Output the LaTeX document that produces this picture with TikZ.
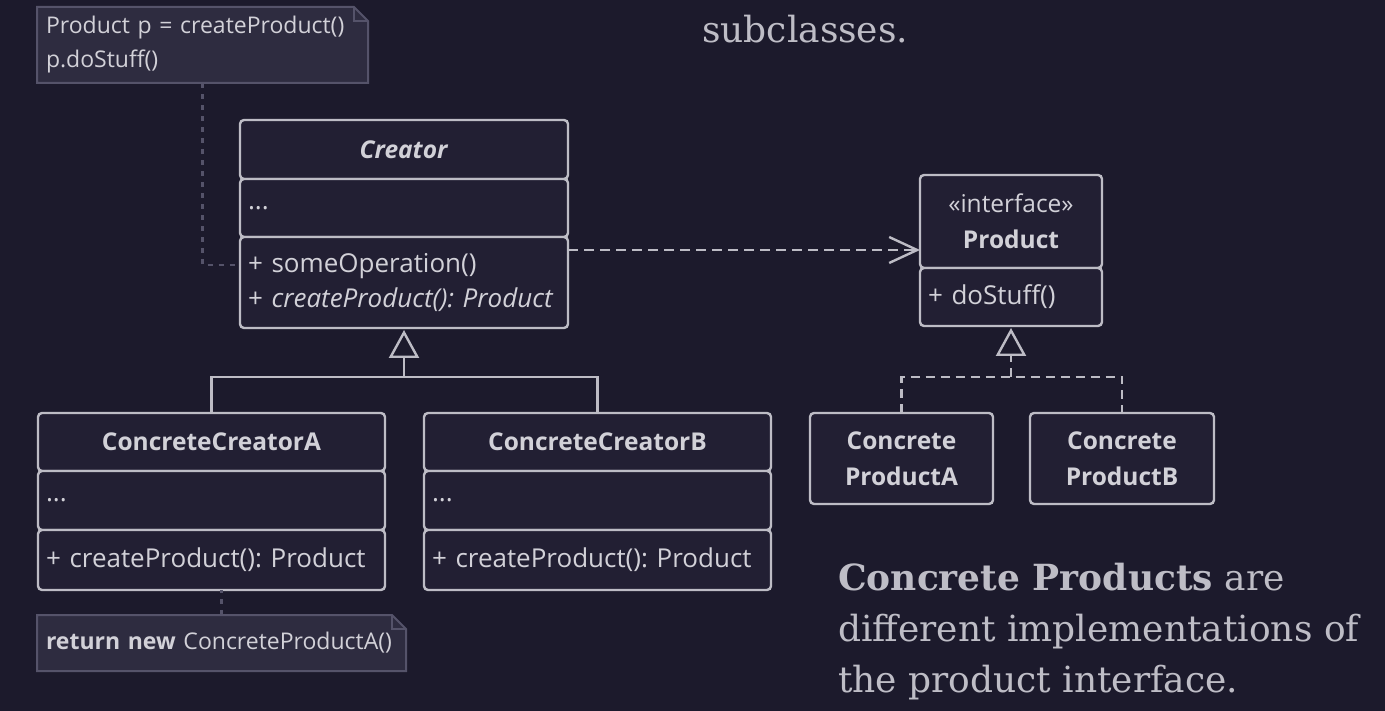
\documentclass[tikz,border=0pt]{standalone}
\usepackage{fontspec}
\setmainfont{DejaVu Serif}
\setsansfont{Open Sans}
\usetikzlibrary{arrows.meta,calc,positioning}
\definecolor{bg}{HTML}{1C1A2C}
\definecolor{panel}{HTML}{221F33}
\definecolor{notefill}{HTML}{2E2C40}
\definecolor{noteedge}{HTML}{55536A}
\definecolor{edge}{HTML}{BDBCC5}
\definecolor{ink}{HTML}{D2D1D8}
\definecolor{prose}{HTML}{BEBDC6}
\frenchspacing
\newcommand\umlfont{\sffamily\fontsize{26}{35}\selectfont}
\newcommand\titlefont{\sffamily\fontsize{24.5}{36}\selectfont}
\newcommand\notefont{\sffamily\fontsize{23}{34}\selectfont}
\newcommand\prosefont{\rmfamily\fontsize{36}{50}\selectfont}
\tikzset{
  part/.style={draw=edge,fill=panel,line width=2.4pt,rounded corners=4pt,outer sep=0pt,
    inner xsep=8pt,inner ysep=0pt,text=ink,font=\umlfont},
  headpart/.style={part,align=center,font=\titlefont},
  bodypart/.style={part,text width=#1,align=left},
  notebox/.style={fill=notefill,outer sep=0pt,inner xsep=9pt,inner ysep=0pt,anchor=north west,
    align=left,text=ink,font=\notefont},
  noteline/.style={draw=noteedge,line width=2pt},
  notelink/.style={draw=noteedge,line width=2.2pt,dash pattern=on 5pt off 6pt},
  gen/.style={-{Triangle[open,length=28pt,width=30pt,line width=2.4pt]},line width=2.4pt,draw=edge},
  real/.style={gen,dash pattern=on 9pt off 6pt},
  dep/.style={-{Straight Barb[length=28pt,width=26pt,line width=2.4pt]},line width=2.4pt,
    draw=edge,dash pattern=on 10pt off 6pt},
  prosetext/.style={anchor=base west,inner sep=0pt,text=prose,font=\prosefont}
}
\begin{document}
\begin{tikzpicture}[x=1pt,y=-1pt]
  \fill[bg] (0,0) rectangle (1385,711);
  \useasboundingbox (0,0) rectangle (1385,711);

  % Creator
  \node[headpart,minimum width=328pt,minimum height=59pt,anchor=north west] (creatorHead) at (240,120) {\textbf{\textit{Creator}}};
  \node[bodypart=312pt,minimum height=58pt,below=0pt of creatorHead] (creatorAttr) {...};
  \node[bodypart=312pt,minimum height=91pt,below=0pt of creatorAttr] (creatorOps) {+ someOperation()\\+ \textit{createProduct(): Product}};

  % Product
  \node[headpart,minimum width=182pt,minimum height=93pt,anchor=north west] (prodHead) at (920,175) {«interface»\\\textbf{Product}};
  \node[bodypart=166pt,minimum height=58pt,below=0pt of prodHead] (prodOps) {+ doStuff()};

  % concrete creators
  \node[headpart,minimum width=347pt,minimum height=58pt,anchor=north west] (ccaHead) at (38,413) {\textbf{ConcreteCreatorA}};
  \node[bodypart=331pt,minimum height=59pt,below=0pt of ccaHead] (ccaAttr) {...};
  \node[bodypart=331pt,minimum height=60pt,below=0pt of ccaAttr] (ccaOps) {+ createProduct(): Product};

  \node[headpart,minimum width=347pt,minimum height=58pt,anchor=north west] (ccbHead) at (424,413) {\textbf{ConcreteCreatorB}};
  \node[bodypart=331pt,minimum height=59pt,below=0pt of ccbHead] (ccbAttr) {...};
  \node[bodypart=331pt,minimum height=60pt,below=0pt of ccbAttr] (ccbOps) {+ createProduct(): Product};

  % concrete products
  \node[headpart,minimum width=183pt,minimum height=91pt,anchor=north west] (cpa) at (810,413) {\textbf{Concrete}\\\textbf{ProductA}};
  \node[headpart,minimum width=184pt,minimum height=91pt,anchor=north west] (cpb) at (1030,413) {\textbf{Concrete}\\\textbf{ProductB}};

  % notes
  \node[notebox,text width=313pt,minimum height=76pt] (noteUse) at (37,7) {Product p = createProduct()\\p.doStuff()};
  \fill[bg] ([xshift=-14pt]noteUse.north east) -- (noteUse.north east) -- ([yshift=-14pt]noteUse.north east) -- cycle;
  \draw[noteline] (noteUse.north west) -- ([xshift=-14pt]noteUse.north east) -- ([yshift=-14pt]noteUse.north east)
    -- (noteUse.south east) -- (noteUse.south west) -- cycle;
  \draw[noteline] ([xshift=-14pt]noteUse.north east) |- ([yshift=-14pt]noteUse.north east);

  \node[notebox,text width=351pt,minimum height=56pt] (noteRet) at (37,615) {\textbf{return new} ConcreteProductA()};
  \fill[bg] ([xshift=-14pt]noteRet.north east) -- (noteRet.north east) -- ([yshift=-14pt]noteRet.north east) -- cycle;
  \draw[noteline] (noteRet.north west) -- ([xshift=-14pt]noteRet.north east) -- ([yshift=-14pt]noteRet.north east)
    -- (noteRet.south east) -- (noteRet.south west) -- cycle;
  \draw[noteline] ([xshift=-14pt]noteRet.north east) |- ([yshift=-14pt]noteRet.north east);

  % links
  \draw[notelink] (noteUse.south) |- ([yshift=-28pt]creatorOps.north west);
  \draw[notelink] (noteRet.north) -- (noteRet.north |- ccaOps.south);

  \coordinate (cjoin) at ($(creatorOps.south)+(0,49)$);
  \draw[edge,line width=2.4pt] (ccaHead.north) |- (cjoin) -| (ccbHead.north);
  \draw[gen,shorten >=2pt] (cjoin) -- (creatorOps.south);

  \coordinate (pjoin) at ($(prodOps.south)+(0,51)$);
  \draw[edge,line width=2.4pt,dash pattern=on 9pt off 6pt] (cpa.north) |- (pjoin) -| (cpb.north);
  \draw[real,shorten >=2pt] (pjoin) -- (prodOps.south);

  \coordinate (depstart) at ([yshift=-13pt]creatorOps.north east);
  \draw[dep] (depstart) -- (depstart -| prodHead.west);

  % prose
  \node[prosetext] (subcl) at (702,43) {subclasses.};
  \node[prosetext] (prose1) at (838,590) {\textbf{Concrete Products} are};
  \node[prosetext] (prose2) at (838,641) {different implementations of};
  \node[prosetext] (prose3) at (838,692) {the product interface.};
\end{tikzpicture}
\end{document}
